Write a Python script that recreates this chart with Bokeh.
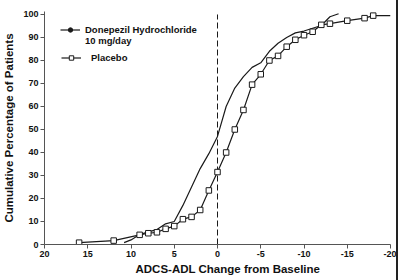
from bokeh.plotting import figure
from bokeh.models import Range1d, FixedTicker, Legend, LegendItem, Title
from bokeh.embed import file_html
from bokeh.resources import INLINE

# Cumulative distribution of ADCS-ADL change from baseline
x_ticks = [20, 15, 10, 5, 0, -5, -10, -15, -20]
x_tick_labels = ["20", "15", "10", "5", "0", "-5", "-10", "-15", "-20"]
y_ticks = [0, 10, 20, 30, 40, 50, 60, 70, 80, 90, 100]

donepezil_change = [10.8, 10, 9, 8, 7, 6, 5, 4, 3, 2, 1, 0, -1, -2, -3, -4,
                    -5, -6, -7, -8, -9, -10, -11, -12, -13, -14]
donepezil_pct = [0.8, 2, 4.3, 5.5, 6.5, 9, 10, 17, 25, 33, 39.5, 47, 60, 68, 73, 77,
                 79, 84, 87.5, 90, 92, 92.8, 94, 95.2, 99, 100.3]

placebo_change = [16, 12, 9, 8, 7, 6, 5, 4, 3, 2, 1, 0, -1, -2, -3, -4, -5, -6,
                  -7, -8, -9, -10, -11, -12, -13, -15, -17, -18]
placebo_pct = [0.8, 1.7, 4.2, 4.9, 5.3, 6.8, 8, 11, 12, 15, 23.5, 31.5, 40, 50, 58.5,
               69.5, 74, 80, 82, 86, 89, 91, 92.5, 95.5, 96, 97.3, 98.4, 99.5]
# the placebo curve runs on to the end of the axis
placebo_tail_change = [-20]
placebo_tail_pct = [99.5]

baseline = 0
nan = float("nan")

FONT = "Liberation Sans"
INK = "#1a1a1a"
AXIS = "#555555"

p = figure(width=398, height=280,
           x_range=Range1d(20, -20), y_range=Range1d(0, 101.3),
           output_backend="svg", toolbar_location=None,
           min_border_left=41, min_border_right=8,
           min_border_top=11, min_border_bottom=36)
p.styles = {"border-right": "2px solid #222222"}
p.grid.visible = False
p.outline_line_color = None
p.background_fill_color = "white"
p.border_fill_color = "white"

for ax in (p.xaxis[0], p.yaxis[0]):
    ax.axis_line_color = AXIS
    ax.axis_line_width = 1
    ax.major_tick_line_color = AXIS
    ax.major_tick_out = 4
    ax.major_tick_in = 0
    ax.minor_tick_line_color = None
    ax.major_label_text_font = FONT
    ax.major_label_text_font_style = "bold"
    ax.major_label_text_font_size = "9px"
    ax.major_label_text_color = "#111111"
    ax.major_label_standoff = 2

p.xaxis.ticker = FixedTicker(ticks=x_ticks)
p.xaxis.major_label_overrides = {t: s for t, s in zip(x_ticks, x_tick_labels)}
p.yaxis.ticker = FixedTicker(ticks=y_ticks)

p.yaxis.axis_label = "Cumulative Percentage of Patients"
p.yaxis.axis_label_text_font = FONT
p.yaxis.axis_label_text_font_style = "bold"
p.yaxis.axis_label_text_font_size = "11.5px"
p.yaxis.axis_label_text_color = "#111111"
p.yaxis.axis_label_standoff = 5

xlabel = Title(text="ADCS-ADL Change from Baseline", align="left", offset=91,
               text_font=FONT, text_font_style="bold", text_font_size="11.5px",
               text_color="#111111", standoff=2)
p.add_layout(xlabel, "below")

# no-change reference line
p.segment(x0=[baseline], y0=[min(y_ticks)], x1=[baseline], y1=[max(y_ticks)],
          line_color=INK, line_width=1, line_dash="6 3")

r_don = p.line(donepezil_change, donepezil_pct, line_color=INK, line_width=1.2)
# key-only marker for the legend (the curve itself is drawn without markers)
r_don_key = p.scatter(x=[nan], y=[nan], marker="circle", size=6,
                      fill_color=INK, line_color=INK)
r_blank = p.line(x=[nan], y=[nan], line_alpha=0)

r_pla = p.line(placebo_change + placebo_tail_change, placebo_pct + placebo_tail_pct,
               line_color=INK, line_width=1.2)
r_pla_pts = p.scatter(placebo_change, placebo_pct, marker="square", size=5.5,
                      fill_color="white", line_color=INK, line_width=1)


def style_legend(lg, standoff):
    lg.border_line_color = None
    lg.background_fill_alpha = 0
    lg.padding = 0
    lg.margin = 0
    lg.spacing = 0
    lg.glyph_width = 20
    lg.glyph_height = 11
    lg.label_height = 11
    lg.label_standoff = standoff
    lg.label_text_font = FONT
    lg.label_text_font_style = "bold"
    lg.label_text_font_size = "9.5px"
    lg.label_text_color = "#111111"


legend_don = Legend(items=[
    LegendItem(label="Donepezil Hydrochloride", renderers=[r_don, r_don_key]),
    LegendItem(label="10 mg/day", renderers=[r_blank]),
], location=(16, 198))
style_legend(legend_don, 5)
p.add_layout(legend_don)

legend_pla = Legend(items=[
    LegendItem(label="Placebo", renderers=[r_pla, r_pla_pts]),
], location=(17, 181))
style_legend(legend_pla, 10)
p.add_layout(legend_pla)

open("out.html", "w").write(file_html(p, INLINE))
